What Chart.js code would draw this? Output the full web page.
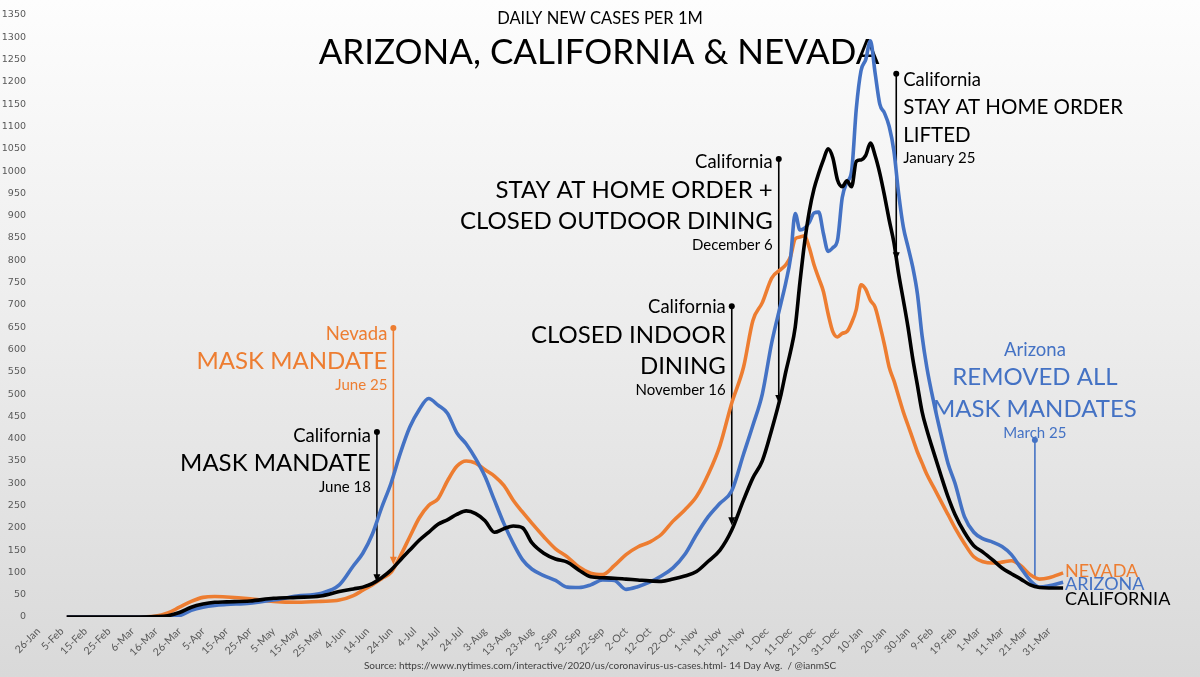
<!DOCTYPE html>
<html><head><meta charset="utf-8">
<script src="https://cdn.jsdelivr.net/npm/chart.js@4.4.1/dist/chart.umd.min.js"></script>
<style>
html,body{margin:0;padding:0;background:#fff;}
#wrap{width:1200px;height:677px;position:relative;background:linear-gradient(to bottom,#fdfdfd 0%,#ececec 50%,#d9d9d9 100%);}
canvas{display:block;}
</style></head><body>
<div id="wrap"><canvas id="c" width="1200" height="677"></canvas></div>
<script>
// Day offsets counted from 26-Jan-2020
const days = [12,20,30,40,50,55,60,65,70,75,80,90,100,110,120,128,134,138,142,146,
150,154,158,162,166,170,174,178,182,186,190,194,198,202,206,210,215,220,225,230,
235,240,245,250,255,260,265,270,275,280,285,290,295,300,304,308,312,316,318,320,
322,324,326,328,330,332,334,336,338,340,342,344,346,348,350,352,354,356,358,360,
362,364,366,368,370,372,374,376,378,381,384,387,390,394,398,402,406,410,414,418,
422,426,430,436];

const california = [0,0,0,0,1,3,10,22,29,33,34,36,42,44,47,57,63,67,75,88,
105,128,150,172,190,208,218,230,238,232,216,190,198,204,200,166,143,130,123,105,
90,88,87,85,83,81,80,85,92,102,125,150,195,262,312,350,420,500,550,595,
650,750,840,910,960,995,1025,1050,1030,980,965,978,965,1022,1025,1035,1063,1035,995,945,
890,840,770,711,650,580,520,460,420,368,318,270,230,190,160,145,128,110,97,85,
72,66,65,65];

const arizona = [0,0,0,0,0,0,3,15,22,26,28,31,38,47,53,72,115,143,185,245,
300,368,426,465,490,475,457,413,388,355,315,262,210,165,128,107,93,82,67,66,
72,83,82,62,68,78,92,110,140,185,225,255,283,365,430,500,615,705,750,805,
905,868,872,885,906,908,860,820,828,845,940,975,1000,1140,1225,1250,1292,1220,1150,1130,
1100,1045,950,875,830,785,725,630,560,480,410,345,300,225,190,175,168,158,140,110,
82,67,70,78];

const nevada = [0,0,0,0,2,9,22,35,44,46,45,41,35,33,35,38,48,60,72,86,
100,137,180,222,250,265,305,338,350,345,330,316,295,262,235,210,180,153,135,112,
98,95,115,140,157,168,185,215,240,270,320,385,480,560,665,705,760,780,790,808,
848,852,855,828,790,760,730,680,640,628,636,640,660,690,745,735,710,695,655,610,
560,530,495,460,430,400,370,345,320,290,260,230,200,165,135,124,121,123,126,115,
95,85,88,99];

const tickLabels = ['26-Jan','5-Feb','15-Feb','25-Feb','6-Mar','16-Mar','26-Mar','5-Apr','15-Apr','25-Apr',
'5-May','15-May','25-May','4-Jun','14-Jun','24-Jun','4-Jul','14-Jul','24-Jul','3-Aug',
'13-Aug','23-Aug','2-Sep','12-Sep','22-Sep','2-Oct','12-Oct','22-Oct','1-Nov','11-Nov',
'21-Nov','1-Dec','11-Dec','21-Dec','31-Dec','10-Jan','20-Jan','30-Jan','9-Feb','19-Feb',
'1-Mar','11-Mar','21-Mar','31-Mar'];

const BLACK = '#000000', ORANGE = '#ED7D31', BLUE = '#4472C4';
const FONT = 'Lato';

// Event annotations: day offset, value of the marker top, value at arrow tip
const events = [
  {day:144, top:415, tip:78, color:BLACK, align:'right', arrow:true,
   lines:[['California',18.5,10],['MASK MANDATE',24,39],['June 18',15,60]]},
  {day:151, top:648, tip:117, color:ORANGE, align:'right', arrow:true,
   lines:[['Nevada',18.5,12],['MASK MANDATE',24,41],['June 25',15,62]]},
  {day:295, top:697, tip:206, color:BLACK, align:'right', arrow:true,
   lines:[['California',18.5,7],['CLOSED INDOOR',24,37],['DINING',24,68],['November 16',15,89]]},
  {day:315, top:1027, tip:480, color:BLACK, align:'right', arrow:true,
   lines:[['California',18.5,9],['STAY AT HOME ORDER +',24,39],['CLOSED OUTDOOR DINING',24,70],['December 6',15,91]]},
  {day:365, top:1218, tip:800, color:BLACK, align:'left', arrow:true,
   lines:[['California',18.5,12],['STAY AT HOME ORDER',20.5,40],['LIFTED',20.5,68],['January 25',15,89]]},
  {day:424, top:397, tip:90, color:BLUE, align:'center', arrow:false,
   lines:[['Arizona',18.5,-84],['REMOVED ALL',24,-55],['MASK MANDATES',24,-23],['March 25',15,-2]]}
];

const overlay = {
  id:'overlay',
  beforeDatasetsDraw(chart){
    const ctx = chart.ctx, xs = chart.scales.x, ys = chart.scales.y;
    ctx.save();
    ctx.fillStyle = BLACK; ctx.textAlign = 'center'; ctx.textBaseline = 'alphabetic';
    ctx.font = `16.5px ${FONT}`;
    ctx.fillText('DAILY NEW CASES PER 1M', 600, 24);
    ctx.font = `35px ${FONT}`;
    ctx.fillText('ARIZONA, CALIFORNIA & NEVADA', 599, 64);
    events.forEach(ev => {
      const x = xs.getPixelForValue(ev.day);
      const yTop = ys.getPixelForValue(ev.top);
      const yTip = ys.getPixelForValue(ev.tip);
      ctx.strokeStyle = ev.color; ctx.fillStyle = ev.color; ctx.lineWidth = 1.6;
      ctx.beginPath(); ctx.moveTo(x, yTop); ctx.lineTo(x, ev.arrow ? yTip - 6 : yTip); ctx.stroke();
      ctx.beginPath(); ctx.arc(x, yTop, 3, 0, Math.PI*2); ctx.fill();
      if (ev.arrow) {
        ctx.beginPath(); ctx.moveTo(x-3.5, yTip-8); ctx.lineTo(x+3.5, yTip-8); ctx.lineTo(x, yTip); ctx.closePath(); ctx.fill();
      }
      ctx.textAlign = ev.align;
      const tx = ev.align === 'right' ? x - 6 : (ev.align === 'left' ? x + 7 : x);
      ev.lines.forEach(([t, size, dy]) => {
        ctx.font = `${size}px ${FONT}`;
        ctx.fillText(t, tx, yTop + dy);
      });
    });
    const lastX = xs.getPixelForValue(days[days.length-1]) + 2;
    ctx.textAlign = 'left'; ctx.font = `18px ${FONT}`;
    ctx.fillStyle = ORANGE; ctx.fillText('NEVADA', lastX, 577);
    ctx.fillStyle = BLUE; ctx.fillText('ARIZONA', lastX, 590);
    ctx.fillStyle = BLACK; ctx.fillText('CALIFORNIA', lastX, 605);
    ctx.fillStyle = '#404040'; ctx.textAlign = 'center'; ctx.font = `10px ${FONT}`;
    ctx.fillText('Source: https://www.nytimes.com/interactive/2020/us/coronavirus-us-cases.html- 14 Day Avg.  / @ianmSC', 600, 669);
    ctx.restore();
  }
};

const mk = (label, vals, color) => ({
  label, data: days.map((d,i)=>({x:d, y:vals[i]})), borderColor: color, backgroundColor: color,
  borderWidth: 3.6, pointRadius: 0, cubicInterpolationMode: 'monotone', fill: false
});

new Chart(document.getElementById('c'), {
  type: 'line',
  data: { datasets: [ mk('California', california, BLACK), mk('Arizona', arizona, BLUE), mk('Nevada', nevada, ORANGE) ] },
  options: {
    responsive: false, animation: false, devicePixelRatio: 1,
    layout: { padding: { left: 0, right: 10, top: 15, bottom: 0 } },
    plugins: { legend: { display: false }, tooltip: { enabled: false } },
    scales: {
      x: {
        type: 'linear', min: -1.5, max: 490,
        grid: { display: false, drawTicks: false }, border: { display: false },
        afterBuildTicks(scale){ scale.ticks = tickLabels.map((l,i)=>({value: i*10})); },
        afterFit(scale){ scale.height = 60; },
        ticks: { autoSkip: false, maxRotation: 45, minRotation: 45, padding: 8,
          color: '#595959', font: { family: FONT, size: 10.5 },
          callback: (v) => tickLabels[Math.round(v/10)] ?? '' }
      },
      y: {
        min: 0, max: 1350,
        grid: { display: false, drawTicks: false }, border: { display: false },
        afterFit(scale){ scale.width = 35; },
        ticks: { stepSize: 50, padding: 9, color: '#595959', font: { family: 'DejaVu Sans', size: 9.5 },
          callback: (v) => String(v) }
      }
    }
  },
  plugins: [overlay]
});
</script>
</body></html>
